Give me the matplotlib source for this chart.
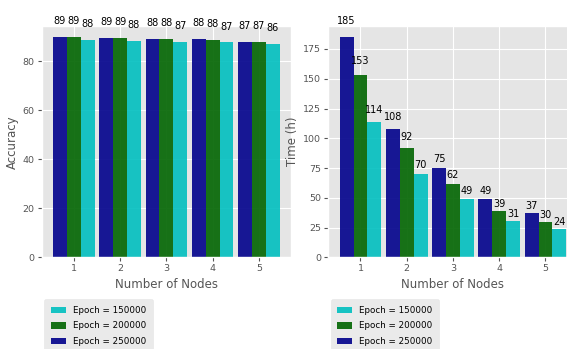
import matplotlib
matplotlib.use("Agg")
import matplotlib.pyplot as plt
import numpy as np
from matplotlib.patches import Patch

plt.style.use("ggplot")
plt.rcParams["font.family"] = ["DejaVu Sans"]

nodes = [1, 2, 3, 4, 5]
series_labels = ["Epoch = 250000", "Epoch = 200000", "Epoch = 150000"]
colors = ["darkblue", "darkgreen", "c"]

acc_250k = [89.8, 89.5, 88.9, 88.9, 87.7]
acc_200k = [89.8, 89.5, 88.9, 88.6, 87.9]
acc_150k = [88.6, 88.1, 87.8, 87.6, 86.9]

time_250k = [185, 108, 75, 49, 37]
time_200k = [153, 92, 62, 39, 30]
time_150k = [114, 70, 49, 31, 24]

fig = plt.figure(figsize=(5.67, 3.49), dpi=100)
ax1 = fig.add_axes([0.0735, 0.2622, 0.4397, 0.6633])
ax2 = fig.add_axes([0.579, 0.2622, 0.4397, 0.6633])

w = 0.3
x = np.array(nodes, dtype=float)

def draw(ax, data, ylabel):
    for i, (vals, col) in enumerate(zip(data, colors)):
        pos = x + (i - 1) * w
        ax.bar(pos, vals, width=w, color=col, alpha=0.9)
        for p, v in zip(pos, vals):
            ax.text(p, v * 1.05, str(int(v)), ha="center", va="bottom",
                    fontsize=7, color="black")
    ax.set_xticks(nodes)
    ax.set_xlabel("Number of Nodes", fontsize=8.5, color="#555555", labelpad=3)
    ax.set_ylabel(ylabel, fontsize=8.5, color="#555555", labelpad=3)
    ax.tick_params(labelsize=6.8, colors="#555555", length=3, pad=2)
    handles = [Patch(facecolor=colors[2], alpha=0.9, label=series_labels[2]),
               Patch(facecolor=colors[1], alpha=0.9, label=series_labels[1]),
               Patch(facecolor=colors[0], alpha=0.9, label=series_labels[0])]
    leg = ax.legend(handles=handles, loc="upper left", bbox_to_anchor=(0.0104, -0.1806),
                    borderaxespad=0, fontsize=6.3, handlelength=1.7, handleheight=0.75,
                    labelspacing=0.75, borderpad=0.75, frameon=True)
    leg.get_frame().set_edgecolor("#E5E5E5")

draw(ax1, [acc_250k, acc_200k, acc_150k], "Accuracy")
draw(ax2, [time_250k, time_200k, time_150k], "Time (h)")

fig.savefig("out.png", dpi=100)
